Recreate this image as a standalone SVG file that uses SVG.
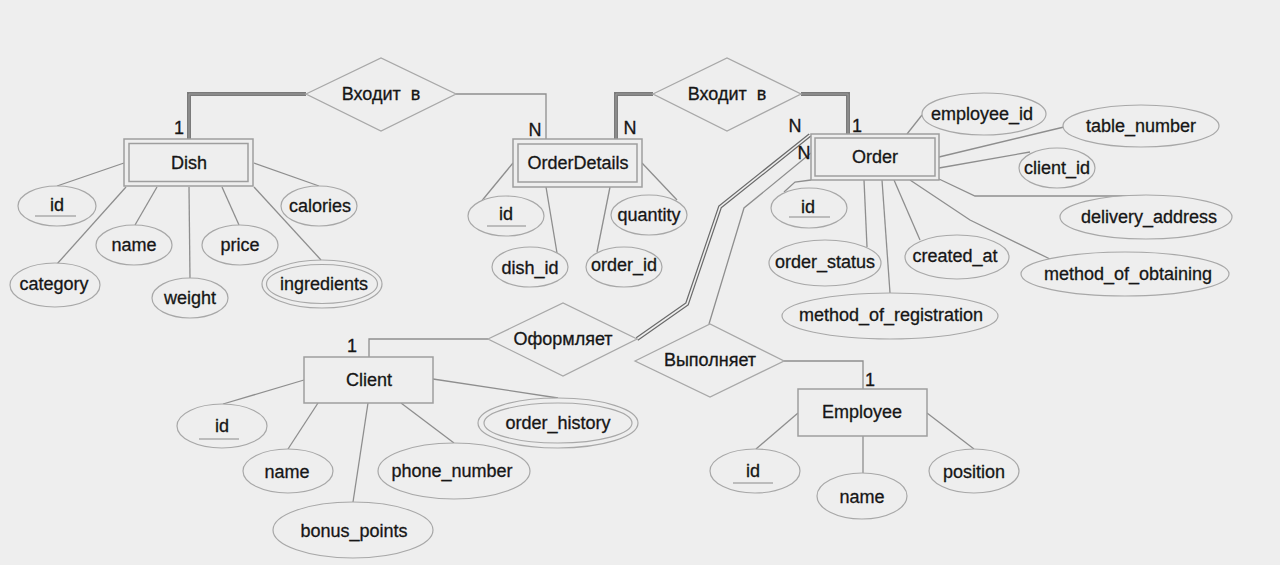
<svg xmlns="http://www.w3.org/2000/svg" width="1280" height="565" viewBox="0 0 1280 565">
<style>
.bg{fill:#eeeeee}
.ent{fill:#eeeeee;stroke:#9e9e9e;stroke-width:1.5}
.inner{fill:none;stroke:#9e9e9e;stroke-width:1.5}
.rel{fill:#eeeeee;stroke:#a8a8a8;stroke-width:1.3}
.att{fill:#eeeeee;stroke:#a8a8a8;stroke-width:1.2}
.ln{fill:none;stroke:#8e8e8e;stroke-width:1.3}
.thick{fill:none;stroke:#7a7a7a;stroke-width:4}
.thickc{fill:none;stroke:#9a9a9a;stroke-width:1}
.dbl{fill:none;stroke:#6a6a6a;stroke-width:4}
.dblc{fill:none;stroke:#eeeeee;stroke-width:1.6}
.ul{stroke:#8a8a8a;stroke-width:1.2}
text{font-family:"Liberation Sans",Arial,sans-serif;font-size:18px;fill:#161616;stroke:#161616;stroke-width:0.3;text-anchor:middle;dominant-baseline:central}
.card{font-size:18px}
</style>
<rect class="bg" x="0" y="0" width="1280" height="565"/>

<g id="connectors">
  <polyline class="thick" points="306,94 189,94 189,139"/>
  <polyline class="thickc" points="306,94 189,94 189,139"/>
  <polyline class="ln" points="456,94 546,94 546,139"/>
  <polyline class="thick" points="653,94 616,94 616,139"/>
  <polyline class="thickc" points="653,94 616,94 616,139"/>
  <polyline class="thick" points="801,94 848,94 848,134"/>
  <polyline class="thickc" points="801,94 848,94 848,134"/>
  <polyline class="dbl" points="810,135 720,207 687,304 637,339"/>
  <polyline class="dblc" points="810,135 720,207 687,304 637,339"/>
  <polyline class="ln" points="811,153 744,208 709,324"/>
  <polyline class="ln" points="488,339 369,339 369,357"/>
  <polyline class="ln" points="784,361 863,361 863,389"/>
  <line class="ln" x1="57" y1="186" x2="124" y2="163"/>
  <line class="ln" x1="57" y1="264" x2="126" y2="187"/>
  <line class="ln" x1="135" y1="225" x2="157" y2="187"/>
  <line class="ln" x1="190" y1="279" x2="189" y2="187"/>
  <line class="ln" x1="239" y1="225" x2="222" y2="187"/>
  <line class="ln" x1="319" y1="186" x2="254" y2="163"/>
  <line class="ln" x1="321" y1="260" x2="254" y2="187"/>
  <line class="ln" x1="480" y1="203" x2="513" y2="163"/>
  <line class="ln" x1="557" y1="253" x2="546" y2="187"/>
  <line class="ln" x1="597" y1="252" x2="610" y2="187"/>
  <line class="ln" x1="677" y1="200" x2="642" y2="163"/>
  <line class="ln" x1="907" y1="134" x2="922" y2="115"/>
  <line class="ln" x1="939" y1="157" x2="1064" y2="127"/>
  <line class="ln" x1="939" y1="168" x2="1030" y2="152"/>
  <polyline class="ln" points="939,179 975,196 1147,196"/>
  <polyline class="ln" points="910,180 970,220 1052,260"/>
  <line class="ln" x1="920" y1="240" x2="894" y2="180"/>
  <line class="ln" x1="890" y1="293" x2="882" y2="180"/>
  <line class="ln" x1="867" y1="247" x2="864" y2="180"/>
  <polyline class="ln" points="811,180 795,182 784,192"/>
  <line class="ln" x1="223" y1="404" x2="304" y2="380"/>
  <line class="ln" x1="288" y1="449" x2="318" y2="403"/>
  <line class="ln" x1="353" y1="502" x2="368" y2="403"/>
  <line class="ln" x1="454" y1="443" x2="401" y2="403"/>
  <line class="ln" x1="558" y1="398" x2="433" y2="379"/>
  <line class="ln" x1="756" y1="449" x2="798" y2="413"/>
  <line class="ln" x1="863" y1="473" x2="863" y2="436"/>
  <line class="ln" x1="974" y1="449" x2="927" y2="413"/>
</g>

<g id="rel-dish-orderdetails">
  <polygon class="rel" points="306,94 381,58 456,94 381,131"/>
  <text x="381" y="94" word-spacing="5">Входит в</text>
</g>
<g id="rel-orderdetails-order">
  <polygon class="rel" points="653,94 727,58 801,94 727,131"/>
  <text x="727" y="94" word-spacing="5">Входит в</text>
</g>
<g id="rel-oformlyaet">
  <polygon class="rel" points="488,339 563,303 637,339 563,376"/>
  <text x="563" y="339">Оформляет</text>
</g>
<g id="rel-vypolnyaet">
  <polygon class="rel" points="635,361 710,324 784,361 710,397"/>
  <text x="710" y="360">Выполняет</text>
</g>

<g id="cardinalities">
  <text class="card" x="179" y="128">1</text>
  <text class="card" x="535" y="130">N</text>
  <text class="card" x="630" y="128">N</text>
  <text class="card" x="795" y="126">N</text>
  <text class="card" x="857" y="126">1</text>
  <text class="card" x="804" y="153">N</text>
  <text class="card" x="352" y="346">1</text>
  <text class="card" x="870" y="380">1</text>
</g>

<g id="Dish">
  <rect class="ent" x="124" y="139" width="129" height="47"/>
  <rect class="inner" x="129" y="143.5" width="119" height="38"/>
  <text x="189" y="163">Dish</text>
</g>
<g id="Dish-id">
  <ellipse class="att" cx="57" cy="206" rx="39" ry="20"/>
  <text x="57" y="205">id</text>
  <line class="ul" x1="35" y1="216" x2="76" y2="216"/>
</g>
<g id="Dish-category">
  <ellipse class="att" cx="55" cy="285" rx="45" ry="22"/>
  <text x="54" y="284">category</text>
</g>
<g id="Dish-name">
  <ellipse class="att" cx="134" cy="245" rx="38" ry="20"/>
  <text x="134" y="245">name</text>
</g>
<g id="Dish-weight">
  <ellipse class="att" cx="190" cy="298" rx="38" ry="20"/>
  <text x="190" y="298">weight</text>
</g>
<g id="Dish-price">
  <ellipse class="att" cx="240" cy="245" rx="38" ry="20"/>
  <text x="240" y="245">price</text>
</g>
<g id="Dish-calories">
  <ellipse class="att" cx="319" cy="206" rx="38" ry="20"/>
  <text x="320" y="206">calories</text>
</g>
<g id="Dish-ingredients">
  <ellipse class="att" cx="322" cy="284" rx="60" ry="24"/>
  <ellipse class="att" cx="322" cy="284" rx="55.5" ry="19.5"/>
  <text x="324" y="284">ingredients</text>
</g>

<g id="OrderDetails">
  <rect class="ent" x="513" y="139" width="129" height="48"/>
  <rect class="inner" x="518" y="144" width="119" height="38"/>
  <text x="578" y="163">OrderDetails</text>
</g>
<g id="OrderDetails-id">
  <ellipse class="att" cx="506" cy="216" rx="38" ry="20"/>
  <text x="506" y="214">id</text>
  <line class="ul" x1="487" y1="226" x2="526" y2="226"/>
</g>
<g id="OrderDetails-dish_id">
  <ellipse class="att" cx="530" cy="267" rx="38" ry="20"/>
  <text x="530" y="268">dish_id</text>
</g>
<g id="OrderDetails-order_id">
  <ellipse class="att" cx="624" cy="267" rx="38" ry="20"/>
  <text x="624" y="265">order_id</text>
</g>
<g id="OrderDetails-quantity">
  <ellipse class="att" cx="649" cy="215" rx="38" ry="20"/>
  <text x="649" y="215">quantity</text>
</g>

<g id="Order">
  <rect class="ent" x="811" y="134" width="128" height="46"/>
  <rect class="inner" x="815" y="138" width="120" height="38"/>
  <text x="875" y="157">Order</text>
</g>
<g id="Order-employee_id">
  <ellipse class="att" cx="984" cy="114" rx="62" ry="21"/>
  <text x="982" y="114">employee_id</text>
</g>
<g id="Order-table_number">
  <ellipse class="att" cx="1141" cy="126" rx="78" ry="21"/>
  <text x="1141" y="126">table_number</text>
</g>
<g id="Order-client_id">
  <ellipse class="att" cx="1057" cy="168" rx="38" ry="20"/>
  <text x="1057" y="168">client_id</text>
</g>
<g id="Order-delivery_address">
  <ellipse class="att" cx="1146" cy="217" rx="86" ry="22"/>
  <text x="1149" y="217">delivery_address</text>
</g>
<g id="Order-method_of_obtaining">
  <ellipse class="att" cx="1125" cy="274" rx="104" ry="22"/>
  <text x="1128" y="274">method_of_obtaining</text>
</g>
<g id="Order-created_at">
  <ellipse class="att" cx="957" cy="257" rx="52" ry="22"/>
  <text x="955" y="256">created_at</text>
</g>
<g id="Order-method_of_registration">
  <ellipse class="att" cx="890" cy="316" rx="108" ry="23"/>
  <text x="891" y="315">method_of_registration</text>
</g>
<g id="Order-order_status">
  <ellipse class="att" cx="825" cy="263" rx="56" ry="23"/>
  <text x="825" y="262">order_status</text>
</g>
<g id="Order-id">
  <ellipse class="att" cx="809" cy="208" rx="38" ry="20"/>
  <text x="808" y="207">id</text>
  <line class="ul" x1="789" y1="217" x2="830" y2="217"/>
</g>

<g id="Client">
  <rect class="ent" x="304" y="357" width="129" height="46"/>
  <text x="369" y="380">Client</text>
</g>
<g id="Client-id">
  <ellipse class="att" cx="222" cy="426" rx="45" ry="22"/>
  <text x="222" y="426">id</text>
  <line class="ul" x1="199" y1="439" x2="239" y2="439"/>
</g>
<g id="Client-name">
  <ellipse class="att" cx="288" cy="471" rx="45" ry="22"/>
  <text x="287" y="472">name</text>
</g>
<g id="Client-bonus_points">
  <ellipse class="att" cx="353" cy="530" rx="80" ry="28"/>
  <text x="354" y="531">bonus_points</text>
</g>
<g id="Client-phone_number">
  <ellipse class="att" cx="454" cy="471" rx="76" ry="28"/>
  <text x="452" y="471">phone_number</text>
</g>
<g id="Client-order_history">
  <ellipse class="att" cx="558" cy="423" rx="80" ry="25"/>
  <ellipse class="att" cx="558" cy="423" rx="74" ry="20"/>
  <text x="558" y="423">order_history</text>
</g>

<g id="Employee">
  <rect class="ent" x="798" y="389" width="129" height="47"/>
  <text x="862" y="412">Employee</text>
</g>
<g id="Employee-id">
  <ellipse class="att" cx="755" cy="471" rx="45" ry="22"/>
  <text x="753" y="471">id</text>
  <line class="ul" x1="733" y1="483" x2="773" y2="483"/>
</g>
<g id="Employee-name">
  <ellipse class="att" cx="862" cy="496" rx="45" ry="23"/>
  <text x="862" y="497">name</text>
</g>
<g id="Employee-position">
  <ellipse class="att" cx="974" cy="471" rx="45" ry="22"/>
  <text x="974" y="472">position</text>
</g>
</svg>
